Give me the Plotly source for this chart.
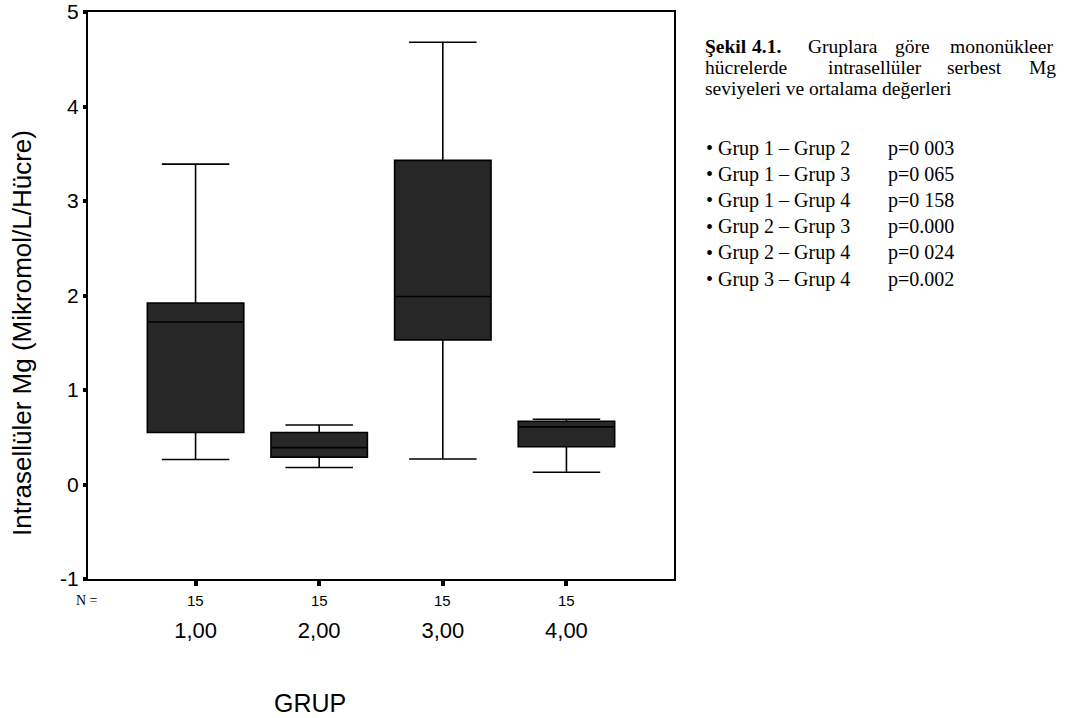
import plotly.graph_objects as go

groups = [1, 2, 3, 4]
group_labels = ["1,00", "2,00", "3,00", "4,00"]
n_counts = ["15", "15", "15", "15"]
lower_fence = [0.265, 0.18, 0.27, 0.13]
q1 = [0.55, 0.29, 1.53, 0.40]
median = [1.72, 0.39, 1.99, 0.61]
q3 = [1.92, 0.55, 3.43, 0.67]
upper_fence = [3.39, 0.63, 4.68, 0.69]
y_ticks = [-1, 0, 1, 2, 3, 4, 5]
y_tick_labels = ["-1", "0", "1", "2", "3", "4", "5"]

comparisons = ["Grup 1 – Grup 2", "Grup 1 – Grup 3", "Grup 1 – Grup 4",
               "Grup 2 – Grup 3", "Grup 2 – Grup 4", "Grup 3 – Grup 4"]
p_values = ["p=0 003", "p=0 065", "p=0 158", "p=0.000", "p=0 024", "p=0.002"]

fig = go.Figure()
fig.add_trace(go.Box(
    x=groups, q1=q1, median=median, q3=q3,
    lowerfence=lower_fence, upperfence=upper_fence,
    width=0.78, whiskerwidth=0.7,
    fillcolor="#272727", line=dict(color="#000000", width=1.6),
    boxpoints=False, hoverinfo="skip", showlegend=False,
))

sans = "Liberation Sans, Arial, sans-serif"
serif = "Liberation Serif, Times New Roman, serif"

fig.update_layout(
    width=1065, height=718,
    margin=dict(l=88, r=391, t=12, b=139, autoexpand=False),
    paper_bgcolor="white", plot_bgcolor="white",
    font=dict(family=sans, color="black"),
    xaxis=dict(range=[0.13, 4.87], tickvals=groups, ticktext=group_labels,
               showline=True, mirror=True, linecolor="black", linewidth=2,
               ticks="outside", ticklen=5, tickwidth=4, tickcolor="black",
               showgrid=False, zeroline=False, automargin=False,
               tickfont=dict(size=22, family=sans), ticklabelstandoff=26),
    yaxis=dict(range=[-1, 5], tickvals=y_ticks, ticktext=y_tick_labels,
               showline=True, mirror=True, linecolor="black", linewidth=2,
               ticks="outside", ticklen=3, tickwidth=4, tickcolor="black",
               showgrid=False, zeroline=False, automargin=False,
               tickfont=dict(size=21, family=sans)),
)

ann_common = dict(showarrow=False, xref="paper", yref="paper")


def px(xp, yp):
    return (xp - 88) / (674 - 88), (579 - yp) / (579 - 12)


# N counts row
for g, n in zip(groups, n_counts):
    fig.add_annotation(x=g, y=px(0, 600)[1], xref="x", yref="paper", text=n,
                       showarrow=False, font=dict(size=15, family=sans),
                       yanchor="middle")

fig.add_annotation(**ann_common, text="N =", x=px(87, 600)[0], y=px(87, 600)[1],
                   xanchor="center", yanchor="middle", font=dict(size=14, family=serif))
fig.add_annotation(**ann_common, text="GRUP", x=px(310, 703)[0], y=px(310, 703)[1],
                   xanchor="center", yanchor="middle", font=dict(size=25, family=sans))
fig.add_annotation(**ann_common, text="Intrasellüler Mg (Mikromol/L/Hücre)",
                   x=px(22, 333)[0], y=px(22, 333)[1], textangle=-90,
                   xanchor="center", yanchor="middle", font=dict(size=26, family=sans))

# caption (justified lines as word pieces)
line1 = [("<b>Şekil</b>", 703), ("<b>4.1.</b>", 750), ("Gruplara", 806), ("göre", 893), ("mononükleer", 948)]
line2 = [("hücrelerde", 703), ("intrasellüler", 826), ("serbest", 945), ("Mg", 1027)]
for words, yy in ((line1, 46), (line2, 67)):
    for w, xx in words:
        fig.add_annotation(**ann_common, text=w, x=px(xx, yy)[0], y=px(xx, yy)[1],
                           xanchor="left", yanchor="middle",
                           font=dict(size=19.5, family=serif))
fig.add_annotation(**ann_common, text="seviyeleri ve ortalama değerleri",
                   x=px(703, 88)[0], y=px(703, 88)[1], xanchor="left", yanchor="middle",
                   font=dict(size=19.5, family=serif))

for i, (c, p) in enumerate(zip(comparisons, p_values)):
    yy = 148 + i * 26.2
    fig.add_annotation(**ann_common, text="•", x=px(704, yy)[0], y=px(704, yy)[1],
                       xanchor="left", yanchor="middle", font=dict(size=20, family=serif))
    fig.add_annotation(**ann_common, text=c, x=px(716, yy)[0], y=px(716, yy)[1],
                       xanchor="left", yanchor="middle", font=dict(size=20, family=serif))
    fig.add_annotation(**ann_common, text=p, x=px(886, yy)[0], y=px(886, yy)[1],
                       xanchor="left", yanchor="middle", font=dict(size=20, family=serif))

fig.write_html("out.html")
